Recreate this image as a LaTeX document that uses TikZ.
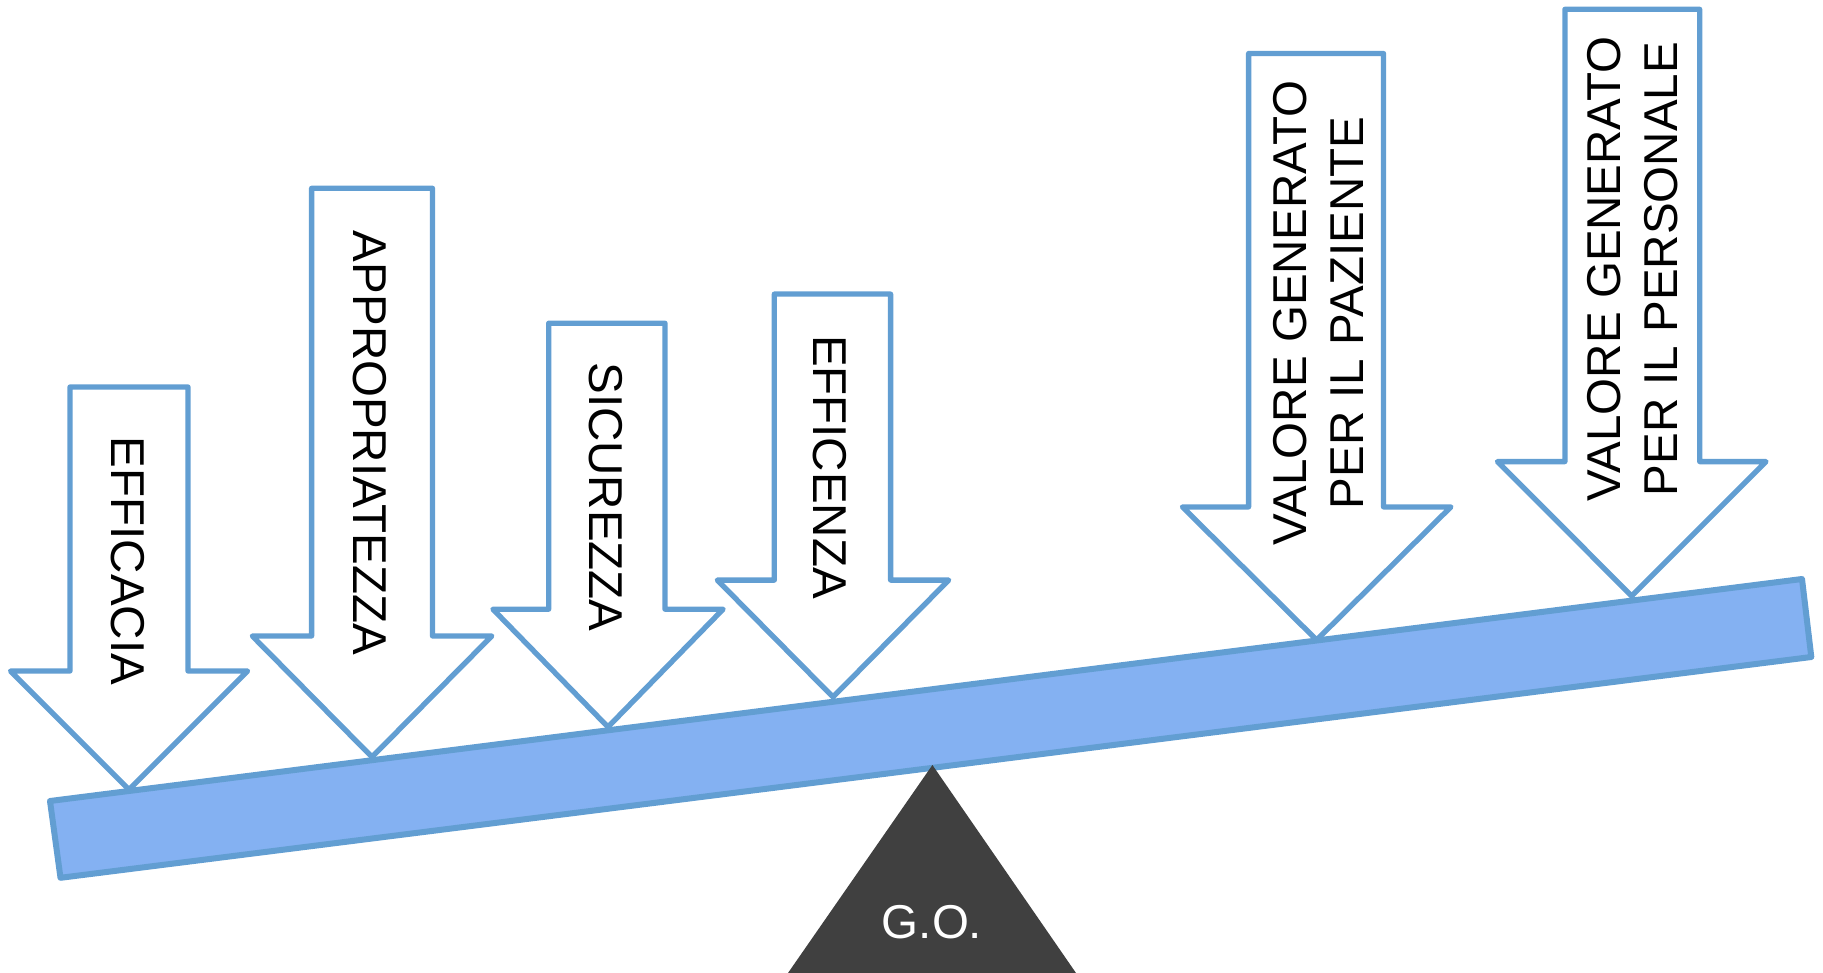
\documentclass[tikz,border=0pt]{standalone}
\usepackage{fontspec}
\setmainfont{Liberation Sans}
\definecolor{edgeblue}{RGB}{98,158,210}
\definecolor{beamfill}{RGB}{132,177,242}
\definecolor{fulcrum}{RGB}{64,64,64}
\begin{document}
\begin{tikzpicture}[x=1pt,y=-1pt,
  arrowbox/.style={draw=edgeblue,fill=white,line width=5.3pt,line join=round},
  beambar/.style={draw=edgeblue,fill=beamfill,line width=6pt,line join=round},
  fulcrumtri/.style={fill=fulcrum},
  lbl/.style={font=\fontsize{47.5}{57}\selectfont,text=black,inner sep=0pt,align=center},
]
\useasboundingbox (0,0) rectangle (1823,973);

% arrows
\draw[arrowbox] (70,387) -- (188,387) -- (188,671) -- (247.6,671) -- (129,789.5) -- (10.5,671) -- (70,671) -- cycle;
\draw[arrowbox] (311.6,188.3) -- (432.5,188.3) -- (432.5,636) -- (491.8,636) -- (372,757) -- (252.3,636) -- (311.6,636) -- cycle;
\draw[arrowbox] (548.7,323.2) -- (665,323.2) -- (665,609.2) -- (723.1,609.2) -- (608,727) -- (492.9,609.2) -- (548.7,609.2) -- cycle;
\draw[arrowbox] (774.3,294.1) -- (890.6,294.1) -- (890.6,580.1) -- (948.7,580.1) -- (833,697) -- (717.3,580.1) -- (774.3,580.1) -- cycle;
\draw[arrowbox] (1248.6,53.5) -- (1383.5,53.5) -- (1383.5,506.9) -- (1450.9,506.9) -- (1316.6,640) -- (1182.4,506.9) -- (1248.6,506.9) -- cycle;
\draw[arrowbox] (1564.9,9.3) -- (1699.7,9.3) -- (1699.7,461.6) -- (1766,461.6) -- (1631.7,596) -- (1497.4,461.6) -- (1564.9,461.6) -- cycle;

% labels
\node[lbl,rotate=-90] (efficacia) at (128,561) {EFFICACIA};
\node[lbl,rotate=-90] (appropriatezza) at (370,443) {APPROPRIATEZZA};
\node[lbl,rotate=-90] (sicurezza) at (606,497) {SICUREZZA};
\node[lbl,rotate=-90] (efficenza) at (830,467) {EFFICENZA};
\node[lbl,rotate=90] (paziente) at (1318,313) {VALORE GENERATO\\PER IL PAZIENTE};
\node[lbl,rotate=90] (personale) at (1633,269) {VALORE GENERATO\\PER IL PERSONALE};

% beam
\coordinate (b1) at (50,801);
\coordinate (b2) at (1802,579);
\coordinate (b3) at (1811.3,657);
\coordinate (b4) at (60.5,877.8);
\draw[beambar] (b1) -- (b2) -- (b3) -- (b4) -- cycle;

% fulcrum
\coordinate (apex) at (932.4,765);
\coordinate (bl) at (788,973);
\coordinate (br) at (1076,973);
\fill[fulcrumtri] (apex) -- (br) -- (bl) -- cycle;
\node[lbl,text=white] (go) at (932,922) {G.O.};
\end{tikzpicture}
\end{document}
